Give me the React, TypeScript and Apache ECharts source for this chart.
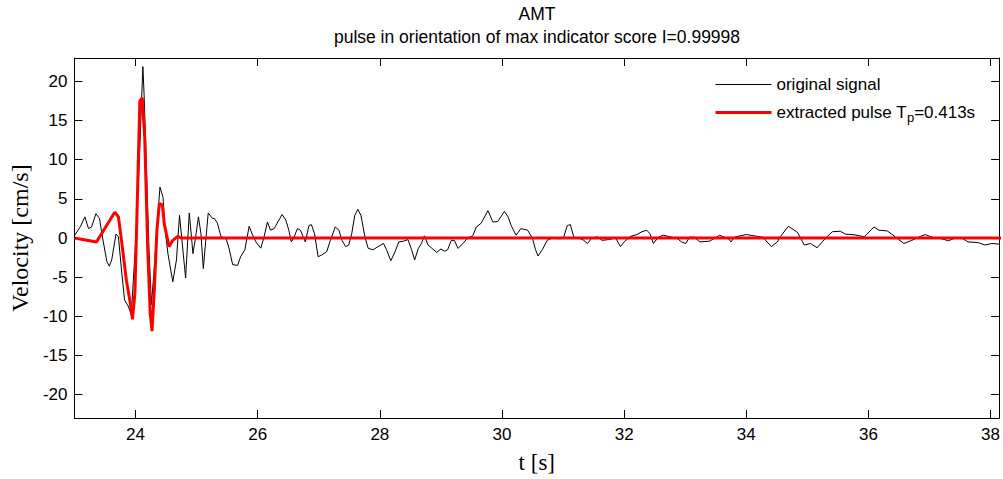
import React, { useEffect, useRef } from "react";
import * as echarts from "echarts";

const titleText = "AMT";
const subtitleText = "pulse in orientation of max indicator score I=0.99998";
const xTicks = [24, 26, 28, 30, 32, 34, 36, 38];
const yTicks = [-20, -15, -10, -5, 0, 5, 10, 15, 20];

const signalT = [
  23.0, 23.1, 23.17, 23.23, 23.28, 23.35, 23.41, 23.44, 23.47, 23.53, 23.57, 23.61, 23.65, 23.68, 23.72,
  23.77, 23.82, 23.88, 23.93, 24.01, 24.06, 24.12, 24.14, 24.18, 24.22, 24.26, 24.3, 24.37, 24.4, 24.45,
  24.48, 24.53, 24.61, 24.67, 24.72, 24.76, 24.82, 24.88, 24.94, 24.98, 25.03, 25.07, 25.11, 25.15, 25.19,
  25.26, 25.29, 25.34, 25.4, 25.48, 25.53, 25.59, 25.67, 25.72, 25.79, 25.86, 25.91, 25.97, 26.05, 26.1,
  26.16, 26.21, 26.27, 26.33, 26.4, 26.46, 26.51, 26.55, 26.59, 26.65, 26.7, 26.78, 26.84, 26.88, 26.93,
  26.99, 27.04, 27.13, 27.19, 27.27, 27.33, 27.38, 27.44, 27.49, 27.54, 27.59, 27.64, 27.69, 27.76, 27.81,
  27.89, 27.97, 28.06, 28.11, 28.18, 28.25, 28.31, 28.39, 28.46, 28.52, 28.57, 28.63, 28.68, 28.73, 28.79,
  28.85, 28.93, 29.0, 29.06, 29.11, 29.17, 29.22, 29.28, 29.36, 29.44, 29.52, 29.58, 29.66, 29.77, 29.85,
  29.93, 30.04, 30.1, 30.15, 30.23, 30.31, 30.42, 30.5, 30.55, 30.59, 30.66, 30.74, 30.82, 30.93, 31.01,
  31.07, 31.12, 31.18, 31.26, 31.34, 31.4, 31.47, 31.56, 31.64, 31.75, 31.86, 31.94, 32.0, 32.1, 32.21,
  32.29, 32.37, 32.42, 32.48, 32.56, 32.64, 32.78, 32.86, 32.94, 33.01, 33.07, 33.15, 33.24, 33.4, 33.51,
  33.56, 33.64, 33.71, 33.75, 33.8, 34.0, 34.11, 34.27, 34.41, 34.51, 34.54, 34.69, 34.84, 34.95, 35.05,
  35.16, 35.3, 35.41, 35.54, 35.62, 35.78, 35.93, 36.09, 36.17, 36.31, 36.44, 36.58, 36.71, 36.82, 36.93,
  37.04, 37.2, 37.31, 37.42, 37.53, 37.63, 37.8, 37.91, 38.02, 38.17,
];
const signalV = [
  0.3, 1.5, 2.7, 1.2, 1.4, 3.1, 2.5, 1.0, -0.4, -3.0, -3.6, -2.8, -0.9, 0.5, 0.15,
  -4.1, -7.9, -8.7, -9.8, 0.6, 9.5, 21.9, 18.3, 8.6, -1.5, -8.5, -4.5, 3.5, 6.5, 5.2,
  1.4, -2.0, -5.6, -2.8, 2.9, -0.3, -5.1, 3.2, -2.0, -0.1, 2.7, 0.6, -3.9, -0.3, 3.2,
  2.5, 2.5, 1.9, 0.15, 0.0, -1.3, -3.4, -3.5, -2.4, -1.5, 1.5, 0.5, -0.5, -1.3, 0.0,
  2.05, 1.0, 1.2, 2.05, 3.0, 2.3, 1.0, -0.5, 0.0, 1.2, 1.0, -0.5, 1.6, 1.7, 0.57,
  -2.4, -2.2, -1.75, -0.3, 1.4, 1.0, -0.3, -1.1, -0.9, 0.57, 2.9, 3.66, 2.9, 0.0, -1.33,
  -1.5, -1.1, -0.7, -1.5, -2.9, -1.75, -0.5, -0.4, -0.2, -1.5, -2.8, -1.33, -0.7, 0.28, -0.9,
  -1.3, -1.84, -1.4, -1.7, -1.5, -0.3, -0.3, -1.33, -0.7, 0.0, 0.28, 1.4, 1.9, 3.5, 2.05,
  2.1, 3.4, 2.7, 1.6, 0.36, 1.2, 1.0, -0.06, -1.5, -2.3, -1.5, -0.3, 0.0, -0.1, 0.1,
  1.6, 1.7, 0.0, 0.0, -0.3, -0.7, 0.0, 0.15, -0.3, -0.2, 0.0, -1.1, -0.5, 0.2, 0.44,
  0.8, 1.0, 0.57, -0.7, 0.1, 0.36, 0.1, 0.0, -0.5, -0.7, 0.1, 0.1, -0.5, -0.4, 0.1,
  0.36, 0.1, -0.1, -0.5, 0.1, 0.44, 0.3, 0.1, -1.1, -0.5, 0.0, 1.5, 0.7, -0.9, -0.7,
  -1.25, 0.0, 0.8, 0.87, 0.5, 0.4, 0.15, 1.4, 1.0, 0.9, 0.15, -0.7, -0.3, 0.1, 0.44,
  0.1, -0.1, -0.35, 0.0, 0.0, -0.5, -0.6, -0.9, -0.7, -0.8,
];

const pulseT = [
  23.0, 23.36, 23.66, 23.72, 23.77, 23.85, 23.91, 23.95, 23.99, 24.03, 24.07, 24.11, 24.15, 24.2, 24.24,
  24.27, 24.31, 24.35, 24.39, 24.44, 24.47, 24.55, 24.61, 24.69, 24.75, 38.2,
];
const pulseV = [
  0.0, -0.5, 3.3, 2.7, -0.3, -5.4, -8.1, -10.4, -7.0, 5.0, 17.5, 17.9, 12.9, -1.5, -9.6,
  -11.9, -6.2, 1.0, 4.4, 4.2, 1.8, -1.1, -0.3, 0.2, 0.0, 0.0,
];

const SANS = "'Liberation Sans', Arial, sans-serif";
const SERIF = "'Liberation Serif', 'Times New Roman', serif";

export default function App() {
  const ref = useRef<HTMLDivElement>(null);
  useEffect(() => {
    if (!ref.current) return;
    const chart = echarts.init(ref.current, null, { renderer: "svg" });
    const xMin = 23;
    const xMax = 38.14;
    const yMin = -23;
    const yMax = 23;
    const tickStyle = { lineStyle: { color: "#000", width: 1 } };
    chart.setOption({
      animation: false,
      backgroundColor: "#fff",
      textStyle: { fontFamily: SANS },
      grid: { left: 71, right: 2, top: 58, bottom: 58, containLabel: false },
      graphic: [
        {
          type: "text",
          x: 537,
          y: 14,
          style: { text: titleText, fontSize: 17.5, fontFamily: SANS, fill: "#000", textAlign: "center", textVerticalAlign: "middle" },
        },
        {
          type: "text",
          x: 537,
          y: 37,
          style: { text: subtitleText, fontSize: 17.5, fontFamily: SANS, fill: "#000", textAlign: "center", textVerticalAlign: "middle" },
        },
      ],
      legend: {
        orient: "vertical",
        left: 714,
        top: 76,
        padding: 0,
        itemWidth: 56,
        itemHeight: 14,
        itemGap: 11,
        itemStyle: { opacity: 0 },
        data: [
          { name: "original signal", lineStyle: { width: 1 } },
          { name: "extracted pulse", lineStyle: { width: 3 } },
        ],
        textStyle: {
          fontSize: 17,
          fontFamily: SANS,
          color: "#000",
          rich: {
            sub: { fontSize: 13, fontFamily: SANS, color: "#000", padding: [10, 0, 0, 0] },
          },
        },
        formatter: (name: string) =>
          name === "extracted pulse" ? "extracted pulse T{sub|p}=0.413s" : name,
      },
      xAxis: [
        {
          type: "value",
          min: xMin,
          max: xMax,
          position: "bottom",
          axisLine: { show: true, onZero: false, lineStyle: { color: "#000", width: 1 } },
          axisTick: { show: true, inside: true, length: 8, customValues: xTicks, ...tickStyle },
          axisLabel: { show: true, customValues: xTicks, margin: 8, fontSize: 17, fontFamily: SANS, color: "#000" },
          splitLine: { show: false },
          name: "t [s]",
          nameLocation: "middle",
          nameGap: 33,
          nameTextStyle: { fontSize: 23, fontFamily: SERIF, color: "#000" },
        },
        {
          type: "value",
          min: xMin,
          max: xMax,
          position: "top",
          axisLine: { show: true, onZero: false, lineStyle: { color: "#000", width: 1 } },
          axisTick: { show: true, inside: true, length: 8, customValues: xTicks, ...tickStyle },
          axisLabel: { show: false },
          splitLine: { show: false },
        },
      ],
      yAxis: [
        {
          type: "value",
          min: yMin,
          max: yMax,
          position: "left",
          axisLine: { show: true, onZero: false, lineStyle: { color: "#000", width: 1 } },
          axisTick: { show: true, inside: true, length: 8, customValues: yTicks, ...tickStyle },
          axisLabel: { show: true, customValues: yTicks, margin: 7, fontSize: 17, fontFamily: SANS, color: "#000" },
          splitLine: { show: false },
          name: "Velocity [cm/s]",
          nameLocation: "middle",
          nameGap: 40,
          nameTextStyle: { fontSize: 24, fontFamily: SERIF, color: "#000" },
        },
        {
          type: "value",
          min: yMin,
          max: yMax,
          position: "right",
          axisLine: { show: true, onZero: false, lineStyle: { color: "#000", width: 1 } },
          axisTick: { show: true, inside: true, length: 8, customValues: yTicks, ...tickStyle },
          axisLabel: { show: false },
          splitLine: { show: false },
        },
      ],
      series: [
        {
          name: "original signal",
          type: "line",
          xAxisIndex: 0,
          yAxisIndex: 0,
          data: signalT.map((t, i) => [t, signalV[i]]),
          symbol: "none",
          showSymbol: false,
          clip: true,
          lineStyle: { color: "#000", width: 1 },
          itemStyle: { color: "#000" },
          z: 2,
        },
        {
          name: "extracted pulse",
          type: "line",
          xAxisIndex: 0,
          yAxisIndex: 0,
          data: pulseT.map((t, i) => [t, pulseV[i]]),
          symbol: "none",
          showSymbol: false,
          clip: true,
          lineStyle: { color: "#ff0000", width: 3 },
          itemStyle: { color: "#ff0000" },
          z: 3,
        },
      ],
    });
    return () => chart.dispose();
  }, []);
  return (
    <div
      ref={ref}
      style={{ position: "fixed", left: 0, top: 0, width: 1003, height: 479, background: "#fff" }}
    />
  );
}
